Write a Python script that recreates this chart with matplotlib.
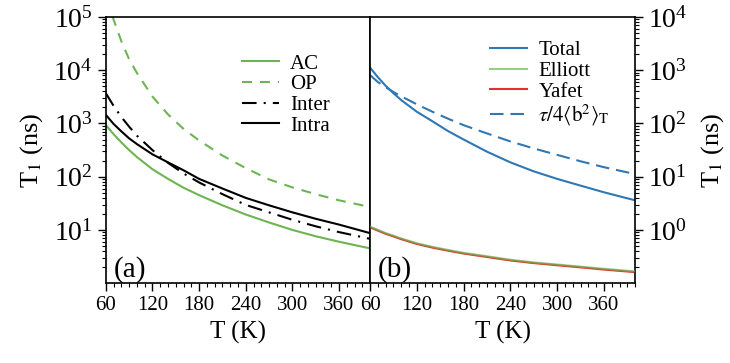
import numpy as np
import matplotlib.pyplot as plt
from matplotlib.ticker import MultipleLocator, LogLocator, NullFormatter

plt.rcParams['font.family'] = ['Liberation Serif', 'DejaVu Serif']
plt.rcParams['mathtext.fontset'] = 'stix'

# temperature grid (K)
T = [60, 70, 80, 90, 100, 120, 140, 160, 180, 210, 240, 270, 300, 330, 360, 400]

# panel (a): T1 in ns per scattering channel
t1_ac = [930, 630, 440, 316, 234, 138, 91, 62, 45, 29, 19.5, 13.8, 10, 7.6, 6.0, 4.5]
t1_op = [2.8e5, 8.9e4, 3.5e4, 1.6e4, 8900, 3200, 1480, 790, 480, 250, 145, 89, 63, 47, 36, 27]
t1_inter = [3700, 2140, 1320, 870, 590, 316, 182, 115, 78, 47, 29.5, 21.4, 15.5, 11.7, 9.1, 6.8]
t1_intra = [1450, 980, 710, 525, 410, 263, 186, 132, 91, 60, 40, 29, 21.4, 16.2, 12.6, 8.7]

# panel (b): total, Elliott and Yafet contributions, plus tau/4<b^2>
t1_total = [1120, 740, 510, 370, 275, 166, 110, 72, 50, 29.5, 18.6, 12.6, 9.1, 6.8, 5.1, 3.6]
t1_elliott = [1.15, 1.0, 0.87, 0.78, 0.69, 0.56, 0.48, 0.42, 0.37, 0.32, 0.275, 0.245, 0.224, 0.204, 0.186, 0.166]
t1_yafet = [1.12, 0.97, 0.845, 0.755, 0.67, 0.545, 0.465, 0.407, 0.36, 0.31, 0.267, 0.238, 0.217, 0.198, 0.18, 0.161]
t1_tau = [810, 600, 480, 390, 324, 229, 166, 123, 93, 65, 46, 34, 25.7, 19.5, 15.1, 11.2]

green = '#6db552'
blue = '#2f78b4'
red = '#e3302b'

fig = plt.figure(figsize=(7.3, 3.63), dpi=100)
ax1 = fig.add_axes([0.145, 0.220, 0.362, 0.733])
ax2 = fig.add_axes([0.507, 0.220, 0.363, 0.733])

lw = 1.5
ax1.plot(T, t1_ac, color=green, lw=lw, label='AC')
ax1.plot(T, t1_op, color=green, lw=lw, dashes=(4.8, 3.8), label='OP')
ax1.plot(T, t1_inter, color='black', lw=lw, dashes=(7, 3.4, 1, 3.4), label='Inter')
ax1.plot(T, t1_intra, color='black', lw=lw, label='Intra')

ax2.plot(T, t1_total, color=blue, lw=lw, label='Total')
ax2.plot(T, t1_yafet, color=red, lw=lw, label='Yafet', zorder=2)
ax2.plot(T, t1_elliott, color=green, lw=lw, label='Elliott', alpha=0.7, zorder=3)
ax2.plot(T, t1_tau, color=blue, lw=lw, dashes=(6.5, 3.3),
         label=r'$\tau/4\langle \mathrm{b}^2\rangle_\mathrm{T}$')

for ax in (ax1, ax2):
    ax.set_yscale('log')
    ax.set_xlim(60, 400)
    ax.set_xticks([60, 120, 180, 240, 300, 360])
    ax.xaxis.set_minor_locator(MultipleLocator(10))
    ax.yaxis.set_major_locator(LogLocator(base=10, numticks=10))
    ax.yaxis.set_minor_locator(LogLocator(base=10, subs=np.arange(2, 10), numticks=20))
    ax.yaxis.set_minor_formatter(NullFormatter())
    ax.tick_params(which='major', direction='out', length=6, width=1)
    ax.tick_params(which='minor', direction='out', length=3, width=0.8)
    ax.tick_params(axis='x', labelsize=15)
    ax.tick_params(axis='y', labelsize=20)
    ax.set_xlabel('T (K)', fontsize=18, labelpad=4)
    for s in ax.spines.values():
        s.set_linewidth(1.2)

ax1.set_ylim(1.0001, 1e5)
ax1.set_ylabel('T$_1$ (ns)', fontsize=19, labelpad=6)
ax1.tick_params(axis='y', which='both', left=True, right=False)

ax2.set_ylim(0.10001, 1e4)
ax2.yaxis.set_label_position('right')
ax2.yaxis.tick_right()
ax2.set_ylabel('T$_1$ (ns)', fontsize=19, labelpad=8)

ax1.text(0.03, 0.025, '(a)', transform=ax1.transAxes, fontsize=21)
ax2.text(0.03, 0.025, '(b)', transform=ax2.transAxes, fontsize=21)

leg_kw = dict(frameon=False, fontsize=15, borderpad=0, handlelength=1.75,
              handletextpad=0.55, labelspacing=0.05, loc='upper left')
ax1.legend(bbox_to_anchor=(0.477, 0.9), **leg_kw)
h, l = ax2.get_legend_handles_labels()
order = [0, 2, 1, 3]
ax2.legend([h[i] for i in order], [l[i] for i in order],
           bbox_to_anchor=(0.415, 0.95), **leg_kw)

fig.savefig('out.png', dpi=100)
